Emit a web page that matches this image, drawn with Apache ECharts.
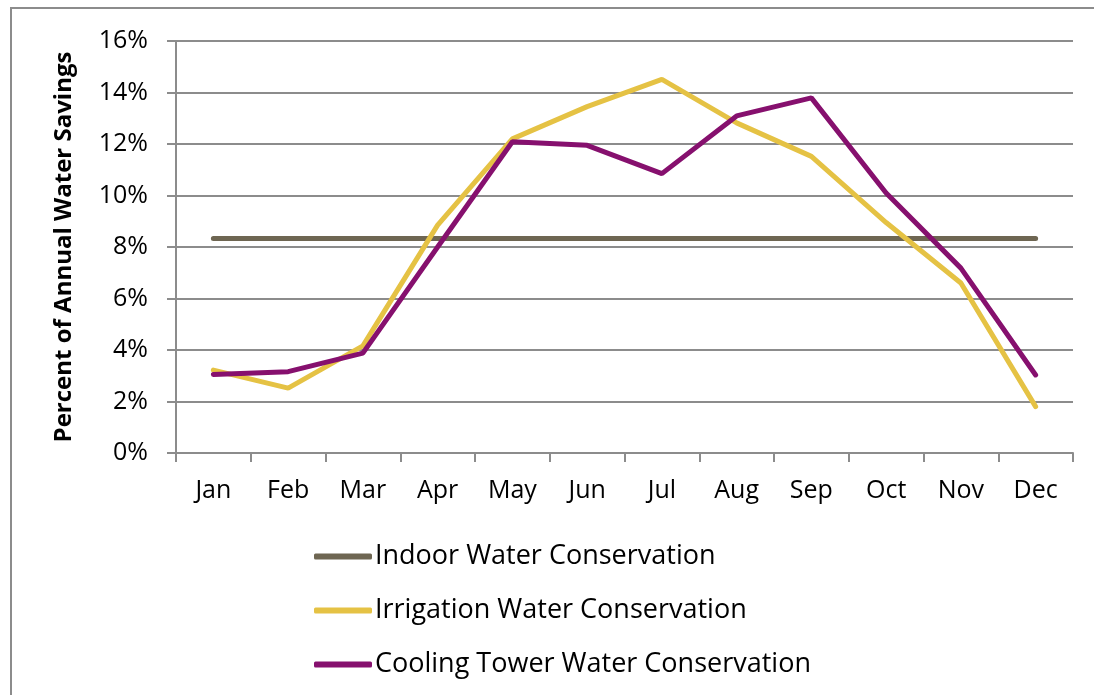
<!DOCTYPE html>
<html lang="en">
<head>
    <meta charset="UTF-8">
    <title>Percent of Annual Water Savings</title>
    <style>
        html, body {
            margin: 0;
            width: 100%;
            height: 100%;
            background: #fff;
        }
        #chart {
            width: 1094px;
            height: 695px;
        }
    </style>
</head>
<body>
<div id="chart"></div>
<script src="https://cdn.jsdelivr.net/npm/echarts@6/dist/echarts.min.js"></script>
<script type="text/javascript">
    var months = ['Jan', 'Feb', 'Mar', 'Apr', 'May', 'Jun', 'Jul', 'Aug', 'Sep', 'Oct', 'Nov', 'Dec'];
    var indoor = [8.33, 8.33, 8.33, 8.33, 8.33, 8.33, 8.33, 8.33, 8.33, 8.33, 8.33, 8.33];
    var irrigation = [3.22, 2.52, 4.16, 8.85, 12.2, 13.45, 14.51, 12.82, 11.52, 8.95, 6.6, 1.8];
    var coolingTower = [3.05, 3.16, 3.88, 8.0, 12.09, 11.95, 10.85, 13.09, 13.79, 10.1, 7.18, 3.03];

    var font = "'Open Sans', 'Liberation Sans', sans-serif";

    var myChart = echarts.init(document.getElementById('chart'));
    var option = {
        backgroundColor: '#fff',
        animation: false,
        graphic: [
            {
                type: 'rect',
                shape: { x: 11, y: 8, width: 1200, height: 800 },
                style: { fill: 'none', stroke: '#8c8c8c', lineWidth: 2 }
            }
        ],
        grid: {
            left: 176,
            right: 21,
            top: 41,
            bottom: 242
        },
        legend: {
            orient: 'vertical',
            left: 309,
            top: 538,
            icon: 'roundRect',
            itemWidth: 58,
            itemHeight: 6,
            itemGap: 27,
            textStyle: {
                fontFamily: font,
                fontSize: 27,
                color: '#000',
                padding: [0, 0, 0, -2]
            },
            data: ['Indoor Water Conservation', 'Irrigation Water Conservation', 'Cooling Tower Water Conservation']
        },
        xAxis: {
            type: 'category',
            data: months,
            boundaryGap: true,
            axisLine: { lineStyle: { color: '#8c8c8c', width: 2 } },
            axisTick: { show: true, length: 9, lineStyle: { color: '#8c8c8c', width: 2 } },
            axisLabel: {
                fontFamily: font,
                fontSize: 25,
                color: '#000',
                margin: 25
            }
        },
        yAxis: {
            type: 'value',
            min: 0,
            max: 16,
            interval: 2,
            name: 'Percent of Annual Water Savings',
            nameLocation: 'middle',
            nameGap: 100,
            nameTextStyle: {
                fontFamily: font,
                fontSize: 24,
                fontWeight: 'bold',
                color: '#000'
            },
            axisLine: { show: true, lineStyle: { color: '#8c8c8c', width: 2 } },
            axisTick: { show: true, length: 9, lineStyle: { color: '#8c8c8c', width: 2 } },
            splitLine: { lineStyle: { color: '#8c8c8c', width: 2 } },
            axisLabel: {
                fontFamily: font,
                fontSize: 25,
                color: '#000',
                margin: 28,
                formatter: '{value}%'
            }
        },
        series: [
            {
                name: 'Indoor Water Conservation',
                type: 'line',
                data: indoor,
                symbol: 'none',
                color: '#6e6652',
                lineStyle: { width: 5, color: '#6e6652', cap: 'round' }
            },
            {
                name: 'Irrigation Water Conservation',
                type: 'line',
                data: irrigation,
                symbol: 'none',
                color: '#e5c244',
                lineStyle: { width: 5, color: '#e5c244', cap: 'round' }
            },
            {
                name: 'Cooling Tower Water Conservation',
                type: 'line',
                data: coolingTower,
                symbol: 'none',
                color: '#86106e',
                lineStyle: { width: 5, color: '#86106e', cap: 'round' }
            }
        ]
    };

    if (option && typeof option === "object") {
        myChart.setOption(option, true);
    }
</script>
</body>
</html>
